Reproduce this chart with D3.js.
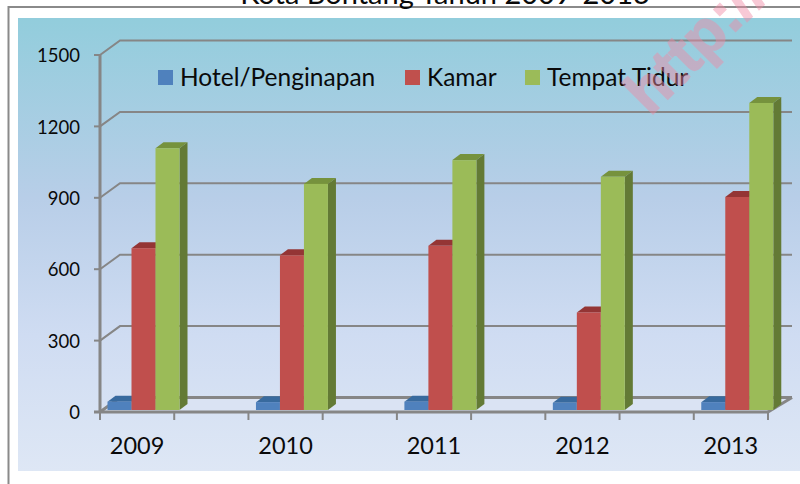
<!DOCTYPE html>
<html><head><meta charset="utf-8">
<script src="https://cdnjs.cloudflare.com/ajax/libs/d3/7.8.5/d3.min.js"></script>
<style>html,body{margin:0;padding:0;background:#fff;overflow:hidden}svg{display:block}text{font-family:Lato,Carlito,sans-serif;fill:#0a0a0a}</style>
</head><body><div id="c"></div>
<script>
const titleText = "Kota Bontang Tahun 2009-2013";
const watermark = "http://";
const years = ["2009","2010","2011","2012","2013"];
const seriesNames = ["Hotel/Penginapan","Kamar","Tempat Tidur"];
const hotel = [35,33,35,30,33];
const kamar = [680,650,690,410,895];
const tidur = [1100,950,1050,980,1290];
const yTicks = [0,300,600,900,1200,1500];
const faceColors = ["#4F81BD","#C0504D","#9BBB59"];
const topColors = ["#386A9E","#943634","#76923C"];
const sideColors = ["#2F5A88","#7F2E2C","#647A35"];
const seriesValues = [hotel,kamar,tidur];

const W=800,H=484, dx=20, dy=-14.5, bdx=8, bdy=-6;
const svg=d3.select("#c").append("svg").attr("width",W).attr("height",H);
const defs=svg.append("defs");
const g=defs.append("linearGradient").attr("id","bg").attr("x1",0).attr("x2",0).attr("y1",0).attr("y2",1);
[[0,"#92CDDC"],[0.4,"#B8CEE8"],[0.7,"#CFDCF2"],[1,"#DEE7F5"]].forEach(s=>g.append("stop").attr("offset",s[0]).attr("stop-color",s[1]));
defs.append("filter").attr("id","soft").append("feGaussianBlur").attr("stdDeviation",0.6);

// frame
svg.append("path").attr("d","M8.5 484V7H800").attr("fill","none").attr("stroke","#8a8a8a").attr("stroke-width",2);
svg.append("rect").attr("x",18).attr("y",18).attr("width",782).attr("height",453).attr("fill","url(#bg)");
svg.append("text").attr("x",445).attr("y",4).attr("text-anchor","middle").attr("font-size",29).text(titleText);

// scales: the category axis has a blank slot between each year
const slots=d3.range(9);
const x=d3.scaleBand().domain(slots).range([100,768]);
const y=d3.scaleLinear().domain([0,1500]).range([412,55]);
const slotOf=i=>i*2;
const inner=d3.scaleBand().domain([0,1,2]).range([7.5,79.5]);
const bw=inner.bandwidth();

const chart=svg.append("g").attr("filter","url(#soft)");
const line="#868686";
// floor
chart.append("path").attr("d",`M100 ${y(0)}l${dx} ${dy}H792L768 ${y(0)}Z`).attr("fill","#dbe4f3").attr("opacity",.8);
// walls / gridlines
chart.selectAll(".grid").data(yTicks).join("path").attr("class","grid")
 .attr("d",d=>`M100 ${y(d)}l${dx} ${dy}H792`).attr("fill","none").attr("stroke",line).attr("stroke-width",d=>d===0?3:2);
chart.append("path").attr("d",`M768 ${y(0)}L792 ${y(0)+dy}`).attr("stroke",line).attr("stroke-width",3).attr("fill","none");

// bars
const base=y(0)-2;
years.forEach((yr,i)=>{
  const left=x(slotOf(i));
  const bg=chart.append("g");
  seriesValues.forEach((vals,s)=>{
    const v=vals[i], bx=left+inner(s), top=y(v)-2;
    bg.append("path").attr("d",`M${bx} ${top}l${bdx} ${bdy}h${bw}l${-bdx} ${-bdy}Z`).attr("fill",topColors[s]);
    bg.append("path").attr("d",`M${bx+bw} ${top}l${bdx} ${bdy}V${base+bdy}l${-bdx} ${-bdy}Z`).attr("fill",sideColors[s]);
    bg.append("rect").attr("x",bx).attr("y",top).attr("width",bw).attr("height",base-top).attr("fill",faceColors[s]);
  });
});

// axes lines
const ax=chart.append("g").attr("stroke",line).attr("fill","none");
ax.append("line").attr("x1",100).attr("x2",100).attr("y1",y(1500)).attr("y2",y(0)).attr("stroke-width",3);
ax.append("line").attr("x1",94).attr("x2",768).attr("y1",y(0)).attr("y2",y(0)).attr("stroke-width",3);
ax.selectAll(".yt").data(yTicks).join("line").attr("x1",94).attr("x2",100).attr("y1",d=>y(d)).attr("y2",d=>y(d)).attr("stroke-width",2);
const tickXs=slots.map(s=>x(s)).concat([x.range()[1]]);
ax.selectAll(".xt").data(tickXs).join("line").attr("x1",d=>d).attr("x2",d=>d).attr("y1",y(0)).attr("y2",y(0)+8).attr("stroke-width",2);

// axis labels through d3 axes
const yAxis=d3.axisLeft(y).tickValues(yTicks).tickSize(0).tickPadding(20).tickFormat(d3.format("d"));
const ya=svg.append("g").attr("transform","translate(100,0)").call(yAxis);
ya.select(".domain").remove();
ya.selectAll("text").attr("font-size",18.5).attr("dy","0.36em");
const labelByScale=d3.scaleOrdinal().domain(years.map((_,i)=>slotOf(i))).range(years);
const xAxis=d3.axisBottom(x).tickValues(years.map((_,i)=>slotOf(i))).tickSize(0).tickPadding(25).tickFormat(labelByScale);
const xa=svg.append("g").attr("transform",`translate(0,${y(0)})`).call(xAxis);
xa.select(".domain").remove();
xa.selectAll("text").attr("font-size",23.5);

// legend
const lx=[158,405,525];
const lg=svg.append("g").selectAll("g").data(seriesNames).join("g").attr("transform",(d,i)=>`translate(${lx[i]},70)`);
lg.append("rect").attr("width",15).attr("height",15).attr("fill",(d,i)=>faceColors[i]);
lg.append("text").attr("x",22).attr("y",15.5).attr("font-size",24.5).text(d=>d);

// watermark
svg.append("text").attr("transform","translate(650,117) rotate(-45)").attr("font-size",61)
  .attr("font-weight",700).style("font-family","'Liberation Sans',sans-serif").style("fill","#f08aa5").style("stroke","#f08aa5").style("stroke-width",1.5).attr("opacity",.45).text(watermark);
</script></body></html>
